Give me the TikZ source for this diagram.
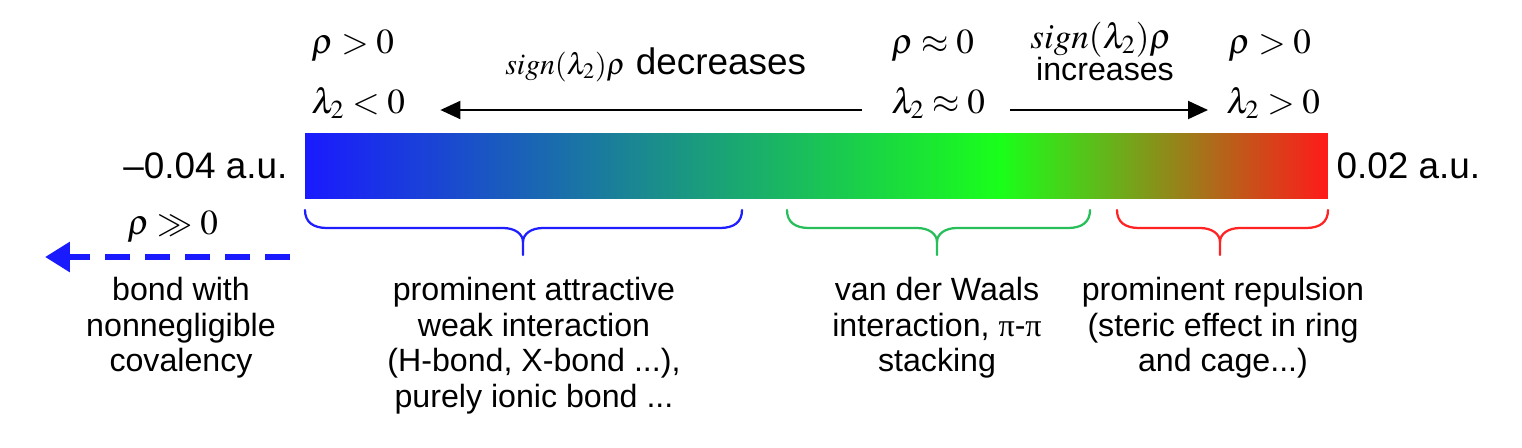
\documentclass[tikz,border=0pt]{standalone}
\usepackage{mathptmx}
\usepackage[no-math]{fontspec}
\setmainfont{Liberation Sans}
\newfontfamily\serifgreek{Liberation Serif}
\usepackage{xcolor}
\usepackage{tikz}
\usetikzlibrary{positioning,calc,arrows.meta}

\definecolor{nciblue}{RGB}{26,26,255}
\definecolor{ncigreen}{RGB}{26,255,26}
\definecolor{ncired}{RGB}{255,26,26}
\definecolor{bracegreen}{RGB}{40,190,90}
\definecolor{braceblue}{RGB}{30,30,255}
\definecolor{bracered}{RGB}{255,35,35}
\pgfdeclarehorizontalshading{ncishade}{100bp}{color(0bp)=(nciblue); color(25bp)=(nciblue); color(59bp)=(ncigreen); color(75bp)=(ncired); color(100bp)=(ncired)}

\begin{document}
\begin{tikzpicture}[x=0.02cm,y=-0.02cm,
  scalebar/.style={inner sep=0, minimum width=20.46cm, minimum height=1.32cm, shading=ncishade},
  lbl/.style={inner sep=0, font=\fontsize{21}{24}\selectfont},
  mlbl/.style={inner sep=0, font=\fontsize{20}{24}\selectfont},
  desc/.style={inner sep=0, align=center, anchor=north, font=\fontsize{18.3}{20.2}\selectfont},
  trendarrow/.style={line width=0.04cm, -{Triangle[length=0.4cm,width=0.36cm]}},
  covarrow/.style={nciblue, line width=0.13cm, dash pattern=on 0.5cm off 0.3cm, -{Triangle[length=0.5cm,width=0.58cm]}},
  braceline/.style={line width=0.045cm, line cap=round}]
\useasboundingbox (0,0) rectangle (1522,447);

% colour scale
\node[scalebar] (bar) at (816.5,166) {};
\node[lbl, left=0.34cm of bar] (minval) {\textendash0.04 a.u.};
\node[lbl, right=0.16cm of bar] (maxval) {0.02 a.u.};

% conditions above the scale
\node[mlbl, anchor=base west] (rhoneg) at (311,53) {$\rho > 0$};
\node[mlbl, anchor=base west] (lamneg) at (311,113) {$\lambda_2 < 0$};
\node[mlbl, anchor=base west] (rhozero) at (891,53) {$\rho \approx 0$};
\node[mlbl, anchor=base west] (lamzero) at (891,113) {$\lambda_2 \approx 0$};
\node[mlbl, anchor=base west] (rhopos) at (1228,53) {$\rho > 0$};
\node[mlbl, anchor=base west] (lampos) at (1226,113) {$\lambda_2 > 0$};

\node[lbl, anchor=base west] (decr) at (505,74) {{\fontsize{17}{20}\selectfont$sign(\lambda_2)\rho$} decreases};
\node[mlbl, anchor=base] (signr) at (1101,48) {$sign(\lambda_2)\rho$};
\node[inner sep=0, anchor=base, font=\fontsize{18.3}{20}\selectfont] (incr) at (1105,80) {increases};

\draw[trendarrow, shorten <=0.58cm, shorten >=0.7cm] ([yshift=0.06cm]lamzero.base west) -- ([yshift=0.06cm]lamneg.base east);
\draw[trendarrow, shorten <=0.5cm, shorten >=0.36cm] ([yshift=0.06cm]lamzero.base east) -- ([yshift=0.06cm]lampos.base west);

% beyond the scale
\node[mlbl, anchor=base west] (rhobig) at (127,234) {$\rho \gg 0$};
\coordinate (dashstart) at (290,257);
\coordinate (dashend) at (45,257);
\draw[covarrow] (dashstart) -- (dashend);

% braces under the scale
\foreach \xa/\xm/\xb/\col in {305/523/742/braceblue, 787/937/1090/bracegreen, 1117/1220/1328/bracered}{
  \draw[braceline, \col] (\xa,210) .. controls (\xa,222) and (\xa+8,228) .. (\xa+22,228) -- (\xm-20,228)
    .. controls (\xm-8,228) and (\xm,234) .. (\xm,242) -- (\xm,255);
  \draw[braceline, \col] (\xb,210) .. controls (\xb,222) and (\xb-8,228) .. (\xb-22,228) -- (\xm+20,228)
    .. controls (\xm+8,228) and (\xm,234) .. (\xm,242);
}

% interaction types
\node[desc] (covdesc) at (181,277) {bond with\\nonnegligible\\covalency};
\node[desc] (attrdesc) at (534,277) {prominent attractive\\weak interaction\\(H-bond, X-bond ...),\\purely ionic bond ...};
\node[desc] (vdwdesc) at (937,277) {van der Waals\\interaction, {\serifgreek π}-{\serifgreek π}\\stacking};
\node[desc] (repdesc) at (1223,277) {prominent repulsion\\(steric effect in ring\\and cage...)};
\end{tikzpicture}
\end{document}
